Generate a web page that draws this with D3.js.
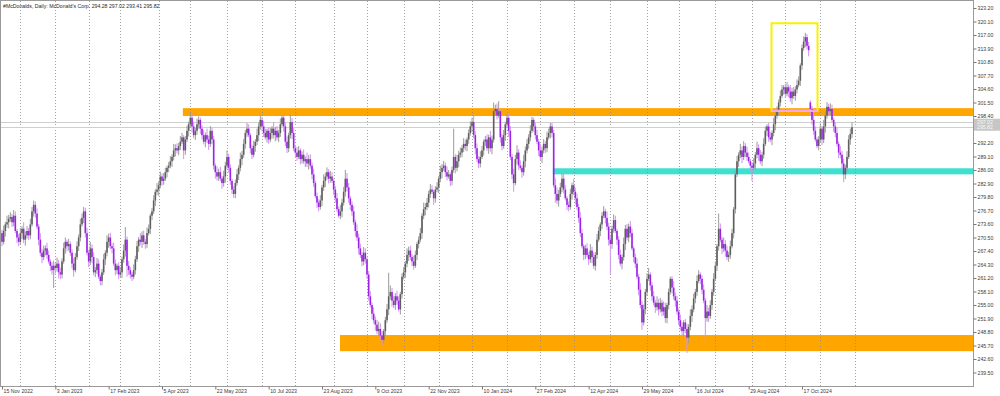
<!DOCTYPE html>
<html>
<head>
<meta charset="utf-8">
<script src="https://cdn.jsdelivr.net/npm/d3@7"></script>
<style>
    body { margin: 0; background: #fff; }
    svg { display: block; font-family: "Liberation Sans", Arial, sans-serif; }
</style>
</head>
<body>
<svg id="chart"></svg>
<script>
"use strict";

// Chart dimensions
const width = 1000;
const height = 396;
const plot = { left: 1, top: 1, right: 973, bottom: 386 };

// Header
const symbolTitle = "#McDonalds, Daily:  McDonald's Corp.  294.28 297.02 293.41 295.82";
const lastPrice = 295.82;
const askPrice = 297.0;

// Daily candles, bar 0 = 15 Nov 2022
const opens = [
271.5,269.5,272.0,273.5,274.0,274.8,275.2,274.0,275.5,272.0, 270.5,269.5,271.5,272.5,270.0,271.0,272.0,271.0,273.5,276.5,
278.0,276.0,273.0,270.0,267.0,266.0,267.5,268.0,266.5,265.0, 264.0,263.0,264.0,263.5,264.5,262.5,262.0,265.0,268.0,269.5,
268.5,269.0,267.0,264.5,263.0,266.0,268.5,270.5,273.5,275.0, 276.5,271.5,267.0,265.0,268.0,266.0,262.5,263.0,264.5,261.5,
260.5,262.5,265.5,267.0,269.5,270.5,268.5,268.0,264.5,263.0, 264.0,262.0,262.5,265.5,267.5,270.0,264.0,263.0,262.0,261.5,
263.0,265.5,268.5,270.0,269.5,271.0,269.5,269.0,271.5,272.5, 275.5,276.5,279.0,281.0,281.5,282.5,284.5,283.5,284.0,285.5,
286.5,287.0,288.0,289.0,290.5,291.0,290.5,291.5,292.5,293.5, 290.5,293.0,295.0,296.5,298.0,296.0,294.0,295.0,296.5,297.5,
295.5,294.0,292.5,294.0,293.0,292.0,295.0,293.0,287.0,285.5, 284.5,285.5,284.0,283.0,284.5,287.0,289.0,286.5,283.5,281.5,
280.5,283.0,285.0,286.5,288.5,289.5,292.0,294.5,295.5,294.0, 291.0,289.5,291.5,292.5,294.0,296.0,297.5,296.0,294.5,293.5,
295.0,293.0,294.5,295.5,294.0,295.0,293.5,294.5,296.5,298.0, 296.0,292.5,291.0,294.0,297.0,294.5,291.0,290.0,289.0,290.5,
288.5,289.5,288.0,288.5,287.5,288.5,287.0,285.0,283.0,280.0, 278.5,277.5,279.0,282.0,283.5,284.5,285.5,284.0,284.5,283.5,
281.5,279.5,277.0,275.5,276.5,278.5,281.0,284.0,282.0,279.5, 278.0,276.5,274.0,272.0,270.5,268.0,266.5,265.0,267.0,265.5,
262.0,257.0,255.0,253.0,251.5,250.5,249.0,249.5,248.0,247.0, 249.0,251.5,254.0,257.0,258.0,256.0,255.0,257.0,256.0,254.0,
257.5,261.5,262.5,264.5,266.5,267.5,266.0,265.0,264.0,266.5, 269.0,270.0,271.5,275.5,277.0,277.5,278.5,280.5,281.5,281.0,
279.5,281.5,282.0,284.0,285.5,286.5,287.0,285.5,284.5,285.0, 283.5,286.0,289.0,286.5,288.0,289.5,290.0,291.0,292.0,291.5,
293.0,294.5,296.0,297.0,294.0,291.0,288.5,287.5,289.0,290.5, 292.5,293.0,291.0,293.5,291.0,293.0,299.5,300.0,298.5,299.5,
293.5,291.5,294.0,296.5,298.0,295.0,289.0,285.0,283.0,288.5, 290.0,287.0,286.5,285.5,288.0,290.5,292.0,293.5,295.0,297.5,
296.0,294.0,292.5,290.5,289.0,290.5,292.0,291.0,293.5,294.5, 296.0,294.5,282.5,280.5,279.0,280.5,282.0,284.0,281.5,279.5,
278.0,277.5,280.5,282.5,281.0,279.5,277.5,275.0,271.5,268.5, 266.5,268.0,266.5,265.5,267.5,266.0,264.0,266.5,270.0,272.0,
273.5,275.5,276.5,275.0,273.0,270.0,269.0,272.5,274.5,272.0, 270.0,266.5,264.5,266.0,269.0,272.5,270.5,273.0,271.5,268.0,
266.0,264.5,261.5,258.5,255.0,251.0,254.0,258.0,261.0,262.0, 259.5,257.0,255.5,254.5,255.5,254.0,255.5,253.5,254.5,252.0,
255.0,258.0,261.0,259.0,257.0,256.0,253.5,251.5,250.0,249.0, 251.0,249.5,247.5,250.0,252.5,254.0,256.5,258.0,260.5,262.0,
261.0,258.5,256.0,252.0,253.5,252.5,255.0,258.0,261.0,264.0, 268.5,272.5,270.0,268.0,269.0,267.5,266.0,266.5,268.5,271.5,
277.0,285.0,288.0,289.5,290.5,289.0,291.5,290.0,289.0,288.0, 287.0,286.5,287.5,289.5,291.0,289.5,288.0,289.5,292.0,295.0,
296.0,293.5,293.0,294.5,296.5,298.5,299.5,301.5,303.0,304.5, 305.0,303.5,305.0,304.0,302.5,304.0,303.0,304.5,305.5,306.5,
310.0,314.0,315.5,316.5,314.5,301.5,300.0,297.5,295.0,293.0, 291.5,293.0,295.5,293.0,296.0,298.5,300.5,299.5,300.0,297.5,
296.0,294.5,292.0,290.0,289.5,287.5,285.0,286.5,289.0,293.0,294.28
];
const highs = [
272.3,273.2,274.1,275.5,275.7,276.3,275.9,276.8,276.5,272.5, 271.3,272.7,273.1,274.0,271.9,273.1,272.7,274.8,277.5,279.0,
278.8,277.2,273.6,271.5,267.9,268.6,268.7,269.3,267.5,265.5, 264.8,265.2,264.6,265.9,265.4,263.6,265.7,269.3,270.5,270.0,
270.2,269.6,267.8,265.7,266.9,269.6,271.2,274.8,276.0,277.5, 277.3,272.7,267.6,269.5,268.9,267.1,263.7,265.8,265.5,262.0,
263.3,266.7,267.6,271.0,271.4,271.6,269.2,269.3,265.5,264.5, 264.8,263.7,266.1,268.9,272.9,270.7,265.1,263.7,262.6,264.3,
266.3,269.7,270.6,271.5,271.9,272.1,270.2,272.8,273.5,276.0, 277.3,280.2,281.6,283.0,283.4,285.6,285.2,285.3,286.5,287.0,
287.8,289.2,289.6,292.0,291.9,292.1,292.2,293.8,294.5,294.0, 293.8,296.2,297.1,299.0,298.9,297.1,295.7,297.8,298.3,298.0,
296.3,295.2,294.6,295.5,293.9,296.1,295.7,293.8,287.5,286.8, 286.3,286.7,284.6,285.8,287.9,290.5,289.7,287.3,284.0,282.3,
283.8,286.2,287.1,290.0,290.4,293.1,295.2,296.8,296.5,294.5, 291.8,292.7,293.1,295.5,296.9,298.6,298.2,297.3,295.5,295.5,
295.8,295.7,296.1,297.0,295.9,296.1,295.2,297.8,298.6,298.5, 296.8,293.7,294.6,298.7,297.9,295.6,291.7,291.3,291.5,291.0,
290.3,290.7,289.1,290.0,289.4,289.6,287.7,286.3,283.5,280.8, 279.3,280.2,282.6,285.0,285.4,286.6,286.2,285.8,285.5,284.0,
282.3,280.7,277.6,278.0,279.4,282.1,286.0,285.3,283.0,280.0, 278.8,277.7,274.6,273.5,271.4,269.1,267.2,268.3,268.0,266.0,
262.8,258.2,255.6,254.5,252.4,251.6,251.2,250.8,249.0,249.5, 252.3,255.2,262.4,259.5,258.9,257.1,257.7,258.3,257.0,258.0,
262.3,263.7,265.1,268.0,268.4,268.6,266.7,266.3,267.5,269.5, 270.8,272.7,276.1,278.5,278.4,279.6,281.2,282.8,282.5,281.5,
282.3,283.2,284.6,287.0,287.4,288.1,287.7,286.8,286.0,285.5, 286.8,295.5,289.6,289.5,290.4,291.1,291.7,293.3,293.0,293.5,
295.3,297.2,298.0,298.5,294.9,292.1,289.2,290.3,291.5,293.0, 293.8,294.2,294.1,295.0,293.9,301.5,301.0,301.3,301.8,300.0,
294.3,295.2,297.1,298.8,298.9,296.1,289.7,286.3,289.5,291.7, 290.8,288.2,287.1,289.5,291.4,293.1,294.2,296.3,298.2,298.0,
296.8,295.2,293.1,292.0,291.4,293.1,292.7,294.8,295.5,296.8, 296.8,295.2,284.1,282.0,281.4,283.1,285.2,285.3,282.5,280.0,
278.8,281.7,283.1,284.0,281.9,280.6,278.2,276.3,272.5,269.0, 268.8,269.2,267.1,269.0,268.4,267.1,267.2,271.3,273.0,274.0,
276.3,277.7,277.1,276.5,273.9,271.1,273.2,275.8,275.5,272.5, 270.8,267.7,266.6,270.5,273.4,273.6,273.7,274.3,272.5,268.5,
266.8,265.7,262.1,260.0,255.9,255.1,258.7,262.3,263.5,262.5, 260.3,258.2,256.1,257.0,256.4,256.6,256.2,255.8,255.5,255.5,
258.8,261.5,261.6,260.5,257.9,257.1,254.2,252.8,251.0,251.5, 251.8,250.7,250.6,254.0,254.9,257.6,258.7,261.8,263.0,262.5,
261.8,259.7,256.6,255.0,254.4,256.1,258.7,262.3,265.0,269.0, 276.0,273.7,270.6,270.5,269.9,268.6,267.2,269.8,272.5,277.5,
285.8,289.2,290.1,292.0,291.4,292.6,292.2,291.3,290.0,288.5, 287.8,288.7,290.1,292.5,291.9,290.6,290.2,293.3,296.0,296.5,
296.8,294.7,295.1,298.0,299.4,300.6,302.2,304.3,305.5,305.5, 305.8,306.2,305.6,305.5,304.9,305.1,305.2,306.8,307.5,310.5,
314.8,316.7,317.5,317.2,315.4,302.0,300.7,298.8,296.0,293.5, 293.8,296.7,296.1,297.5,299.4,301.6,301.2,301.3,301.0,298.0,
296.8,295.7,292.6,291.5,290.4,288.6,287.2,290.3,294.0,295.5,297.02
];
const lows = [
268.5,268.9,270.7,272.7,272.6,274.1,272.9,273.1,271.5,269.3, 268.5,268.9,270.2,269.2,268.6,270.3,269.9,270.1,273.0,275.3,
275.0,272.4,268.7,266.2,264.6,265.3,266.4,265.6,264.5,262.8, 262.0,258.9,262.2,262.7,261.1,260.9,261.1,264.5,266.8,267.3,
267.5,266.3,263.4,261.5,262.5,265.4,267.4,269.6,273.0,273.8, 270.5,266.4,263.7,264.2,264.6,261.8,261.4,262.1,261.0,259.5,
259.5,261.9,264.2,266.2,268.1,267.8,266.9,264.0,261.8,262.1, 261.0,261.4,261.2,264.7,266.1,261.5,261.9,261.1,260.5,260.9,
262.0,264.9,267.2,268.7,268.1,268.8,267.9,268.1,271.0,271.3, 274.5,275.9,277.7,280.2,280.1,281.8,282.4,282.6,283.5,284.3,
285.5,286.4,286.7,288.2,289.1,289.8,289.4,290.6,292.0,288.5, 289.5,292.4,293.7,295.7,294.6,293.3,292.9,294.1,295.5,294.3,
293.0,291.9,291.2,292.2,290.6,291.3,291.9,286.1,284.0,283.6, 283.5,283.4,281.7,282.2,283.1,286.3,285.4,282.6,280.5,279.6,
279.5,282.4,283.7,285.7,287.1,288.8,290.9,293.6,293.5,289.8, 288.5,288.9,290.2,291.7,292.6,295.3,294.9,293.6,293.0,292.3,
292.0,292.4,293.2,293.2,292.6,292.8,292.4,293.6,296.0,294.8, 291.5,289.9,290.1,293.2,293.1,290.3,288.9,288.1,288.5,287.3,
287.5,287.4,286.7,286.7,286.1,286.3,283.9,282.1,279.5,277.3, 276.5,276.9,277.7,281.2,282.1,283.8,282.9,283.1,283.0,280.3,
278.5,276.4,275.0,274.7,275.1,277.8,279.9,281.1,278.5,276.8, 275.5,273.4,270.7,269.7,266.6,265.8,263.9,264.1,264.5,261.0,
256.0,254.4,251.7,250.7,249.1,248.3,247.9,246.9,245.8,246.2, 248.0,250.9,252.7,256.2,254.6,254.3,253.9,255.1,253.5,252.8,
256.5,260.9,261.2,263.7,265.1,265.3,263.9,263.1,263.5,265.3, 268.0,269.4,270.2,274.7,275.6,276.8,277.4,279.6,280.5,278.0,
278.5,280.9,280.7,283.2,284.1,285.8,284.4,283.6,284.0,282.3, 282.5,285.4,285.2,285.7,286.6,288.8,288.9,290.1,290.5,290.3,
292.0,293.9,294.7,293.2,289.6,287.8,286.4,286.6,288.5,289.3, 291.5,290.4,289.7,290.2,289.6,292.3,298.4,297.6,298.0,292.3,
290.5,290.9,292.7,295.7,293.6,288.3,283.9,281.0,282.5,287.3, 286.0,285.9,284.2,284.7,286.6,289.8,290.9,292.6,294.5,294.8,
293.0,291.9,289.2,288.2,287.6,289.8,289.9,290.1,293.0,293.3, 293.5,282.0,278.5,278.2,277.6,279.8,280.9,280.6,279.0,276.8,
276.5,276.9,279.2,280.2,278.1,276.8,273.9,270.6,268.0,265.3, 265.5,265.9,264.2,264.7,264.6,263.3,262.9,265.6,269.5,270.8,
272.5,274.9,273.7,272.2,268.6,262.0,267.9,271.6,271.5,268.8, 265.5,263.9,263.2,265.2,267.6,269.8,269.4,270.6,267.5,264.8,
263.5,260.9,257.2,254.2,249.3,250.3,252.9,257.1,260.5,258.3, 256.0,254.9,253.2,253.7,252.6,253.3,252.4,252.6,250.9,250.8,
254.0,257.4,257.7,256.2,254.6,252.8,250.4,249.1,248.0,247.8, 248.5,244.0,246.2,249.2,251.1,253.3,255.4,257.1,260.0,259.8,
257.5,255.4,246.5,251.2,251.1,251.8,253.9,257.1,260.5,262.8, 267.5,269.4,266.7,267.2,266.1,265.3,264.9,265.6,268.0,270.3,
276.0,284.4,286.7,288.7,287.6,288.3,288.9,288.1,287.5,285.8, 283.5,285.9,286.2,288.7,288.1,287.3,286.9,288.6,291.5,293.8,
292.5,292.4,291.7,293.7,295.1,297.8,298.4,300.6,302.5,303.3, 302.5,302.9,302.7,301.7,301.1,302.3,301.9,303.6,305.0,305.3,
309.0,313.4,314.2,313.7,312.1,298.5,296.4,294.1,292.5,291.0, 290.5,292.4,291.7,292.2,294.6,297.8,298.4,298.6,297.0,294.8,
293.5,291.4,288.7,288.7,286.1,283.2,283.9,285.6,288.5,291.8,293.41
];
const closes = [
269.5,272.0,273.5,274.0,274.8,275.2,274.0,275.5,272.0,270.5, 269.5,271.5,272.5,270.0,271.0,272.0,271.0,273.5,276.5,278.0,
276.0,273.0,270.0,267.0,266.0,267.5,268.0,266.5,265.0,264.0, 263.0,264.0,263.5,264.5,262.5,262.0,265.0,268.0,269.5,268.5,
269.0,267.0,264.5,263.0,266.0,268.5,270.5,273.5,275.0,276.5, 271.5,267.0,265.0,268.0,266.0,262.5,263.0,264.5,261.5,260.5,
262.5,265.5,267.0,269.5,270.5,268.5,268.0,264.5,263.0,264.0, 262.0,262.5,265.5,267.5,270.0,264.0,263.0,262.0,261.5,263.0,
265.5,268.5,270.0,269.5,271.0,269.5,269.0,271.5,272.5,275.5, 276.5,279.0,281.0,281.5,282.5,284.5,283.5,284.0,285.5,286.5,
287.0,288.0,289.0,290.5,291.0,290.5,291.5,292.5,293.5,290.5, 293.0,295.0,296.5,298.0,296.0,294.0,295.0,296.5,297.5,295.5,
294.0,292.5,294.0,293.0,292.0,295.0,293.0,287.0,285.5,284.5, 285.5,284.0,283.0,284.5,287.0,289.0,286.5,283.5,281.5,280.5,
283.0,285.0,286.5,288.5,289.5,292.0,294.5,295.5,294.0,291.0, 289.5,291.5,292.5,294.0,296.0,297.5,296.0,294.5,293.5,295.0,
293.0,294.5,295.5,294.0,295.0,293.5,294.5,296.5,298.0,296.0, 292.5,291.0,294.0,297.0,294.5,291.0,290.0,289.0,290.5,288.5,
289.5,288.0,288.5,287.5,288.5,287.0,285.0,283.0,280.0,278.5, 277.5,279.0,282.0,283.5,284.5,285.5,284.0,284.5,283.5,281.5,
279.5,277.0,275.5,276.5,278.5,281.0,284.0,282.0,279.5,278.0, 276.5,274.0,272.0,270.5,268.0,266.5,265.0,267.0,265.5,262.0,
257.0,255.0,253.0,251.5,250.5,249.0,249.5,248.0,247.0,249.0, 251.5,254.0,257.0,258.0,256.0,255.0,257.0,256.0,254.0,257.5,
261.5,262.5,264.5,266.5,267.5,266.0,265.0,264.0,266.5,269.0, 270.0,271.5,275.5,277.0,277.5,278.5,280.5,281.5,281.0,279.5,
281.5,282.0,284.0,285.5,286.5,287.0,285.5,284.5,285.0,283.5, 286.0,289.0,286.5,288.0,289.5,290.0,291.0,292.0,291.5,293.0,
294.5,296.0,297.0,294.0,291.0,288.5,287.5,289.0,290.5,292.5, 293.0,291.0,293.5,291.0,293.0,299.5,300.0,298.5,299.5,293.5,
291.5,294.0,296.5,298.0,295.0,289.0,285.0,283.0,288.5,290.0, 287.0,286.5,285.5,288.0,290.5,292.0,293.5,295.0,297.5,296.0,
294.0,292.5,290.5,289.0,290.5,292.0,291.0,293.5,294.5,296.0, 294.5,282.5,280.5,279.0,280.5,282.0,284.0,281.5,279.5,278.0,
277.5,280.5,282.5,281.0,279.5,277.5,275.0,271.5,268.5,266.5, 268.0,266.5,265.5,267.5,266.0,264.0,266.5,270.0,272.0,273.5,
275.5,276.5,275.0,273.0,270.0,269.0,272.5,274.5,272.0,270.0, 266.5,264.5,266.0,269.0,272.5,270.5,273.0,271.5,268.0,266.0,
264.5,261.5,258.5,255.0,251.0,254.0,258.0,261.0,262.0,259.5, 257.0,255.5,254.5,255.5,254.0,255.5,253.5,254.5,252.0,255.0,
258.0,261.0,259.0,257.0,256.0,253.5,251.5,250.0,249.0,251.0, 249.5,247.5,250.0,252.5,254.0,256.5,258.0,260.5,262.0,261.0,
258.5,256.0,252.0,253.5,252.5,255.0,258.0,261.0,264.0,268.5, 272.5,270.0,268.0,269.0,267.5,266.0,266.5,268.5,271.5,277.0,
285.0,288.0,289.5,290.5,289.0,291.5,290.0,289.0,288.0,287.0, 286.5,287.5,289.5,291.0,289.5,288.0,289.5,292.0,295.0,296.0,
293.5,293.0,294.5,296.5,298.5,299.5,301.5,303.0,304.5,305.0, 303.5,305.0,304.0,302.5,304.0,303.0,304.5,305.5,306.5,310.0,
314.0,315.5,316.5,314.5,313.5,300.0,297.5,295.0,293.0,291.5, 293.0,295.5,293.0,296.0,298.5,300.5,299.5,300.0,297.5,296.0,
294.5,292.0,290.0,289.5,287.5,285.0,286.5,289.0,293.0,294.3,295.82
];

// Time axis: a label every 32 bars, grid at each month start (bar index)
const dateLabels = ["15 Nov 2022", "3 Jan 2023", "17 Feb 2023", "5 Apr 2023", "22 May 2023", "10 Jul 2023",
    "23 Aug 2023", "9 Oct 2023", "22 Nov 2023", "10 Jan 2024", "27 Feb 2024", "12 Apr 2024",
    "29 May 2024", "16 Jul 2024", "29 Aug 2024", "17 Oct 2024"];
const labelBars = [0, 32, 64, 96, 128, 160, 192, 224, 256, 288, 320, 352, 384, 416, 448, 480];
const monthBars = [11, 32, 52, 71, 94, 113, 135, 156, 176, 199, 219, 241, 262, 282, 303, 323, 343, 365, 387, 406, 428, 450, 470, 491, 512];

// Price axis ticks
const priceTicks = [323.2, 320.1, 317.0, 313.9, 310.8, 307.7, 304.6, 301.5, 298.4, 292.2, 289.1, 286.0, 282.9, 279.8,
    276.7, 273.6, 270.5, 267.4, 264.3, 261.2, 258.1, 255.0, 251.9, 248.8, 245.7, 242.6, 239.5];

// Drawn zones (from bar, top price, bottom price)
const zoneFrom = [108.5, 202.8, 330.5];
const zoneHigh = [300.2, 248.1, 286.4];
const zoneLow = [298.4, 244.4, 285.0];
const zoneColors = ["#ffa500", "#ffa500", "#40e0d0"];

// Highlight box around the October 2024 spike
const boxFrom = 461.7, boxTo = 489.3, boxHigh = 319.7, boxLow = 299.6;

const svg = d3.select("#chart").attr("width", width).attr("height", height);

const xScale = d3.scaleLinear().domain([0, 510]).range([2, 852]);
const yScale = d3.scaleLinear().domain([239.5, 323.2]).range([372.5, 8]);

svg.append("rect").attr("width", width).attr("height", height).attr("fill", "#fff");

// zones go behind everything else
const zoneLayer = svg.append("g");
zoneFrom.forEach((from, i) => {
    zoneLayer.append("rect")
        .attr("x", xScale(from))
        .attr("y", yScale(zoneHigh[i]))
        .attr("width", plot.right - xScale(from))
        .attr("height", yScale(zoneLow[i]) - yScale(zoneHigh[i]))
        .attr("fill", zoneColors[i]);
});

// monthly separators
svg.append("g").selectAll("line").data(monthBars).enter().append("line")
    .attr("x1", d => Math.round(xScale(d)) + 0.5)
    .attr("x2", d => Math.round(xScale(d)) + 0.5)
    .attr("y1", plot.top)
    .attr("y2", plot.bottom)
    .attr("stroke", "#8a8a8a")
    .attr("stroke-width", 0.8)
    .attr("stroke-dasharray", "1,2");

// bid / ask lines
[askPrice, lastPrice].forEach(p => {
    svg.append("line")
        .attr("x1", plot.left).attr("x2", plot.right)
        .attr("y1", Math.round(yScale(p)) + 0.5).attr("y2", Math.round(yScale(p)) + 0.5)
        .attr("stroke", "#cfcfcf");
});

// candles
const bars = d3.range(closes.length);
const candles = svg.append("g").selectAll("g").data(bars).enter().append("g");

candles.append("line")
    .attr("x1", i => xScale(i)).attr("x2", i => xScale(i))
    .attr("y1", i => yScale(Math.max(highs[i], opens[i], closes[i])))
    .attr("y2", i => yScale(Math.min(lows[i], opens[i], closes[i])))
    .attr("stroke", i => closes[i] >= opens[i] ? "#9c9c9c" : "#cf93f0")
    .attr("stroke-width", 1);

candles.append("rect")
    .attr("x", i => xScale(i) - 0.8)
    .attr("width", 1.6)
    .attr("y", i => yScale(Math.max(opens[i], closes[i])))
    .attr("height", i => Math.max(0.8, Math.abs(yScale(opens[i]) - yScale(closes[i]))))
    .attr("fill", i => closes[i] >= opens[i] ? "#5e5e5e" : "#9b22e6");

// yellow box with pink base
svg.append("rect")
    .attr("x", xScale(boxFrom))
    .attr("y", yScale(boxHigh))
    .attr("width", xScale(boxTo) - xScale(boxFrom))
    .attr("height", yScale(boxLow) - yScale(boxHigh))
    .attr("fill", "none")
    .attr("stroke", "#f7f200")
    .attr("stroke-width", 2);
svg.append("line")
    .attr("x1", xScale(boxFrom)).attr("x2", xScale(boxTo))
    .attr("y1", yScale(boxLow)).attr("y2", yScale(boxLow))
    .attr("stroke", "#f3a6e6")
    .attr("stroke-width", 1.4);

// frame
svg.append("rect")
    .attr("x", plot.left - 0.5).attr("y", plot.top - 0.5)
    .attr("width", plot.right - plot.left + 1).attr("height", plot.bottom - plot.top + 1)
    .attr("fill", "none")
    .attr("stroke", "#9a9a9a");

// price axis
const yAxis = svg.append("g")
    .attr("transform", `translate(${plot.right + 0.5}, 0)`)
    .call(d3.axisRight(yScale).tickValues(priceTicks).tickSize(3).tickPadding(1).tickFormat(d3.format(".2f")));
yAxis.select(".domain").remove();
yAxis.selectAll("line").attr("stroke", "#777");
yAxis.selectAll("text").attr("font-size", "5.2px").attr("fill", "#3c3c3c").attr("font-family", "Liberation Sans, Arial, sans-serif");

// time axis
const xAxis = svg.append("g")
    .attr("transform", `translate(0, ${plot.bottom + 0.5})`)
    .call(d3.axisBottom(xScale).tickValues(labelBars).tickSize(3).tickFormat((d, i) => dateLabels[i]));
xAxis.select(".domain").remove();
xAxis.selectAll("line").attr("stroke", "#777");
xAxis.selectAll("text")
    .attr("text-anchor", "start")
    .attr("x", 1)
    .attr("y", 2.5)
    .attr("font-size", "5.2px")
    .attr("fill", "#3c3c3c")
    .attr("font-family", "Liberation Sans, Arial, sans-serif");

// current price tag
const tagY = yScale(lastPrice);
svg.append("rect")
    .attr("x", plot.right + 1).attr("y", tagY - 8.5)
    .attr("width", width - plot.right - 1).attr("height", 12)
    .attr("fill", "#c6c6c6");
svg.append("text")
    .attr("x", plot.right + 4).attr("y", tagY - 3)
    .attr("font-size", "5.2px").attr("fill", "#fafafa")
    .text(d3.format(".2f")(askPrice + 0.02));
svg.append("text")
    .attr("x", plot.right + 4).attr("y", tagY + 1.8)
    .attr("font-size", "5.2px").attr("fill", "#fafafa")
    .text(d3.format(".2f")(lastPrice));

// header
svg.append("text")
    .attr("x", 3).attr("y", 7.5)
    .attr("font-size", "5.2px")
    .attr("fill", "#2a2a2a")
    .text(symbolTitle);
</script>
</body>
</html>
